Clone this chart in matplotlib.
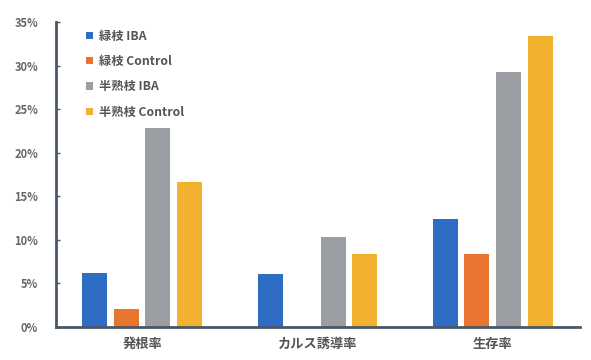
import matplotlib
matplotlib.use("Agg")
import matplotlib.pyplot as plt
import numpy as np
from matplotlib.ticker import FuncFormatter, MultipleLocator

plt.rcParams['font.family'] = ['Noto Sans CJK JP', 'DejaVu Sans']

categories = ["発根率", "カルス誘導率", "生存率"]
series_names = ["緑枝 IBA", "緑枝 Control", "半熟枝 IBA", "半熟枝 Control"]
green_iba = [6.2, 6.1, 12.4]
green_ctrl = [2.1, 0.0, 8.4]
semi_iba = [22.8, 10.3, 29.2]
semi_ctrl = [16.6, 8.4, 33.4]
colors = ["#2F6CC4", "#E8752F", "#9B9FA4", "#F2B12E"]

series = [green_iba, green_ctrl, semi_iba, semi_ctrl]

fig = plt.figure(figsize=(5.91, 3.6), dpi=100)
ax = fig.add_axes([0.095, 0.092, 0.887, 0.847])

x = np.arange(len(categories))
width = 0.143
pitch = 0.18
for i, (vals, name, c) in enumerate(zip(series, series_names, colors)):
    ax.bar(x + (i - 1.5) * pitch, vals, width, color=c, label=name, zorder=2)

ax.set_xlim(-0.49, 2.5)
ax.set_ylim(0, 35)
ax.yaxis.set_major_locator(MultipleLocator(5))
ax.yaxis.set_major_formatter(FuncFormatter(lambda v, p: f"{int(round(v))}%"))
ax.set_xticks(x)
ax.set_xticklabels(categories, fontsize=9.5, fontweight='bold', color='#555555')
ax.tick_params(axis='x', length=0, pad=7)
ax.tick_params(axis='y', direction='in', length=3, width=1, color='#4a5866',
               labelsize=8, labelcolor='#666666', pad=13)
for lbl in ax.get_yticklabels():
    lbl.set_fontweight('bold')

for s in ['top', 'right']:
    ax.spines[s].set_visible(False)
for s in ['left', 'bottom']:
    ax.spines[s].set_color('#4a5866')
    ax.spines[s].set_linewidth(2)

leg = ax.legend(loc='upper left', bbox_to_anchor=(0.036, 1.01), frameon=False,
                handlelength=0.55, handleheight=0.55, handletextpad=0.5,
                labelspacing=1.0, prop={'size': 8.8, 'weight': 'bold'})
for t in leg.get_texts():
    t.set_color('#555555')

fig.savefig("out.png", dpi=100, facecolor='white')
